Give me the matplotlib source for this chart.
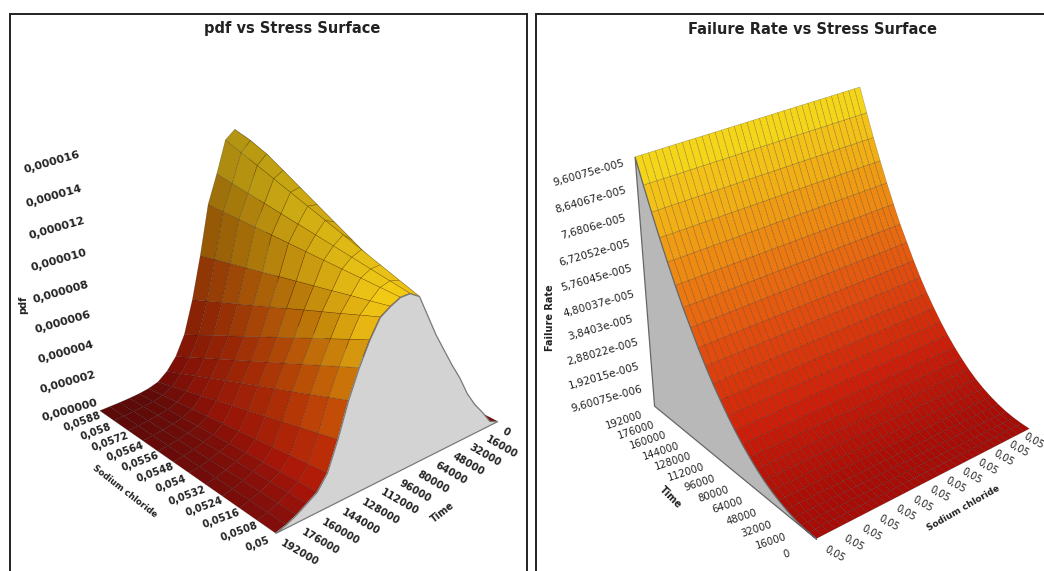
import numpy as np
import matplotlib
matplotlib.use('Agg')  # Use non-interactive backend
import matplotlib.pyplot as plt
from matplotlib.colors import LinearSegmentedColormap
from matplotlib.patches import Rectangle
from mpl_toolkits.mplot3d import proj3d
from mpl_toolkits.mplot3d.art3d import Poly3DCollection

W, H = 1044, 571

# time grid shared by both surfaces
time_hours = [0, 8000, 16000, 24000, 32000, 40000, 48000, 56000, 64000, 72000, 80000, 88000,
              96000, 104000, 112000, 120000, 128000, 136000, 144000, 152000, 160000, 168000,
              176000, 184000, 192000]
stress_left = [0.05, 0.0508, 0.0516, 0.0524, 0.0532, 0.054, 0.0548, 0.0556, 0.0564, 0.0572, 0.058, 0.0588]

# pdf in units of 1e-6, one row per time, one column per stress
pdf_table = [
    [0] * 12,
    [.3, .28, .26, .25, .23, .21, .19, .17, .15, .14, .12, .1],
    [1.2, 1.14, 1.07, 1.01, .95, .88, .82, .75, .69, .63, .56, .5],
    [2.0, 1.95, 1.89, 1.84, 1.78, 1.73, 1.67, 1.62, 1.56, 1.51, 1.45, 1.4],
    [3, 3.02, 3.04, 3.05, 3.07, 3.09, 3.11, 3.13, 3.15, 3.16, 3.18, 3.2],
    [4.3, 4.44, 4.57, 4.71, 4.85, 4.98, 5.12, 5.25, 5.39, 5.53, 5.66, 5.8],
    [5.4, 5.73, 6.05, 6.38, 6.71, 7.04, 7.36, 7.69, 8.02, 8.35, 8.67, 9],
    [6.6, 7.09, 7.58, 8.07, 8.56, 9.05, 9.55, 10.04, 10.53, 11.02, 11.51, 12],
    [7.8, 8.47, 9.15, 9.82, 10.49, 11.16, 11.84, 12.51, 13.18, 13.85, 14.4, 14.9],
    [9.2, 9.82, 10.44, 11.05, 11.67, 12.29, 12.91, 13.53, 14.15, 14.76, 15.2, 15.5],
    [10.6, 11, 11.4, 11.8, 12.2, 12.6, 13, 13.4, 13.8, 14.2, 14.6, 15],
    [11, 11.18, 11.36, 11.55, 11.73, 11.91, 12.09, 12.27, 12.45, 12.64, 12.82, 13],
    [11, 11.02, 11.04, 11.05, 11.07, 11.09, 11.11, 11.13, 11.15, 11.16, 11.18, 11.2],
    [10.7, 10.45, 10.21, 9.96, 9.72, 9.47, 9.23, 8.98, 8.74, 8.49, 8.25, 8],
    [10.3, 9.84, 9.37, 8.91, 8.45, 7.98, 7.52, 7.05, 6.59, 6.13, 5.66, 5.2],
    [9.2, 8.64, 8.07, 7.51, 6.95, 6.38, 5.82, 5.25, 4.69, 4.13, 3.56, 3],
    [7.8, 7.25, 6.69, 6.14, 5.58, 5.03, 4.47, 3.92, 3.36, 2.81, 2.25, 1.7],
    [6.1, 5.63, 5.15, 4.68, 4.21, 3.74, 3.26, 2.79, 2.32, 1.85, 1.37, .9],
    [4, 3.67, 3.35, 3.02, 2.69, 2.36, 2.04, 1.71, 1.38, 1.05, .73, .4],
    [2.2, 2.02, 1.84, 1.65, 1.47, 1.29, 1.11, .93, .75, .56, .38, .2],
    [1.3, 1.19, 1.08, .97, .86, .75, .65, .54, .43, .32, .21, .1],
    [.9, .82, .75, .67, .59, .51, .44, .36, .28, .2, .13, .05],
    [.5, .46, .41, .37, .33, .28, .24, .19, .15, .11, .06, .02],
    [.2, .18, .17, .15, .13, .11, .1, .08, .06, .04, .03, .01],
    [0] * 12,
]

# failure rate in units of 1e-5, it does not change across the stress axis
failure_rate = [0, .009, .038, .096, .187, .307, .452, .634, .855, 1.114, 1.403, 1.729, 2.094,
                2.498, 2.930, 3.411, 3.939, 4.516, 5.092, 5.745, 6.437, 7.167, 7.936, 8.752, 9.60075]

time_ticks = [0, 16000, 32000, 48000, 64000, 80000, 96000, 112000, 128000, 144000, 160000, 176000, 192000]
time_tick_labels = ['0', '16000', '32000', '48000', '64000', '80000', '96000', '112000', '128000',
                    '144000', '160000', '176000', '192000']
stress_tick_labels = ['0,05', '0,0508', '0,0516', '0,0524', '0,0532', '0,054', '0,0548', '0,0556',
                      '0,0564', '0,0572', '0,058', '0,0588']
pdf_ticks = [0, 2e-6, 4e-6, 6e-6, 8e-6, 10e-6, 12e-6, 14e-6, 16e-6]
pdf_tick_labels = ['0,000000', '0,000002', '0,000004', '0,000006', '0,000008', '0,000010',
                   '0,000012', '0,000014', '0,000016']
rate_ticks = [9.60075e-6, 1.92015e-5, 2.88022e-5, 3.8403e-5, 4.80037e-5, 5.76045e-5, 6.72052e-5,
              7.6806e-5, 8.64067e-5, 9.60075e-5]
rate_tick_labels = ['9,60075e-006', '1,92015e-005', '2,88022e-005', '3,8403e-005', '4,80037e-005',
                    '5,76045e-005', '6,72052e-005', '7,6806e-005', '8,64067e-005', '9,60075e-005']
rate_stress_labels = ['0,05'] * 13

cmap_left = LinearSegmentedColormap.from_list('pdf', [(0, '#6e0c0a'), (.15, '#9c1408'), (.4, '#a82c06'),
                                                      (.6, '#b04c06'), (.8, '#b87c0a'), (1, '#d8b414')])
cmap_right = LinearSegmentedColormap.from_list('rate', [(0, '#a80c06'), (.15, '#cf1e08'), (.35, '#e24a0e'),
                                                        (.6, '#ee8a12'), (.8, '#f2bb16'), (1, '#f8e81c')])


def make_axes(fig, elev, azim, aspect, focal, size, left, bottom):
    ax = fig.add_axes([left / W, bottom / H, size / W, size / H], projection='3d', computed_zorder=False)
    ax.view_init(elev=elev, azim=azim)
    ax.set_box_aspect(aspect)
    ax.set_proj_type('persp', focal_length=focal)
    ax.set_axis_off()
    return ax


def to_pixels(ax, x, y, z):
    xs, ys, _ = proj3d.proj_transform(np.array([x], float), np.array([y], float), np.array([z], float), ax.get_proj())
    return ax.transData.transform((xs[0], ys[0]))


def tick_label(fig, ax, point, text, dx, dy, rotation, weight='bold', size=8, ha='center'):
    px, py = to_pixels(ax, *point)
    fig.text((px + dx) / W, (py - dy) / H, text, ha=ha, va='center', rotation=rotation,
             rotation_mode='anchor', fontsize=size, fontweight=weight, color='#222222')


def label(fig, x, y, text, rotation, size=7):
    fig.text(x / W, 1 - y / H, text, ha='center', va='center', rotation=rotation,
             rotation_mode='anchor', fontsize=size, fontweight='bold', color='#222222')


fig = plt.figure(figsize=(W / 100, H / 100), dpi=100)

# left panel
ax1 = make_axes(fig, 25.7956, 49.2064, (0.6013, 0.5751, 0.5548), 0.5211, 484.65, 48.28, 25.65)
times = np.array(time_hours, float)
stress = np.array(stress_left)
pdf = np.array(pdf_table, float) * 1e-6
S1, T1 = np.meshgrid(stress, times)
shade = np.linspace(1.12, 0.8, len(stress))
colors1 = cmap_left(pdf / pdf.max(axis=0))
colors1[..., :3] = np.clip(colors1[..., :3] * shade[None, :, None], 0, 1)
ax1.plot_surface(T1, S1, pdf, facecolors=colors1, rstride=1, cstride=1, shade=False,
                 edgecolor=(0, 0, 0, .32), linewidth=.35, zorder=1)
wall1 = list(zip(times, stress[0] * np.ones(len(times)), pdf[:, 0]))
ax1.add_collection3d(Poly3DCollection([wall1], facecolor='#d3d3d3', edgecolor='#7a7a7a', linewidth=.9, zorder=2))
ax1.set_xlim(0, 192000, view_margin=0)
ax1.set_ylim(0.0588, 0.05, view_margin=0)
ax1.set_zlim(0, 1.6e-5, view_margin=0)

for z, text in zip(pdf_ticks, pdf_tick_labels):
    tick_label(fig, ax1, (192000, 0.0588, z), text, -30, 0, 16)
for s, text in zip(stress, stress_tick_labels):
    tick_label(fig, ax1, (192000, s, 0), text, -18, 11, 20, size=7.3)
for t, text in zip(time_ticks, time_tick_labels):
    tick_label(fig, ax1, (t, 0.05, 0), text, 6, 9, -30, size=7.3, ha='left')
label(fig, 23, 305, 'pdf', 90)
label(fig, 125, 491, 'Sodium chloride', -38, size=6.2)
label(fig, 443, 512, 'Time', 38)
fig.text(292.5 / W, 1 - 29 / H, 'pdf vs Stress Surface', ha='center', va='center', fontsize=10.5,
         fontweight='bold', color='#222222')

# right panel
ax2 = make_axes(fig, 30.4579, -128.7995, (0.5718, 0.5693, 0.5907), 0.5665, 476.75, 594.64, 28.20)
rate = np.array(failure_rate) * 1e-5
stress_pos = np.arange(37) / 3
R2 = np.tile(rate[:, None], (1, len(stress_pos)))
X2, T2 = np.meshgrid(stress_pos, times)
colors2 = cmap_right(R2 / rate.max())
ax2.plot_surface(X2, T2, R2, facecolors=colors2, rstride=1, cstride=1, shade=False,
                 edgecolor=(0, 0, 0, .32), linewidth=.35, zorder=1)
wall2 = list(zip(np.zeros(len(times)), times, rate)) + [(0, times[-1], 0)]
ax2.add_collection3d(Poly3DCollection([wall2], facecolor='#b8b8b8', edgecolor='#666666', linewidth=.9, zorder=2))
ax2.set_xlim(0, 12, view_margin=0)
ax2.set_ylim(0, 192000, view_margin=0)
ax2.set_zlim(0, 9.60075e-5, view_margin=0)

for z, text in zip(rate_ticks, rate_tick_labels):
    tick_label(fig, ax2, (0, 192000, z), text, -46, 16, 16, weight='normal', size=7.6)
for i, text in enumerate(rate_stress_labels):
    tick_label(fig, ax2, (i, 0, 0), text, 19 - 1.25 * i, 15 - .25 * i, -30, weight='normal', size=7)
for t, text in zip(time_ticks, time_tick_labels):
    tick_label(fig, ax2, (0, t, 0), text, -30, 15, 18, weight='normal', size=7.3)
label(fig, 550, 318, 'Failure Rate', 90)
label(fig, 670, 497, 'Time', -45)
label(fig, 963, 508, 'Sodium chloride', 30, size=6.5)
fig.text(813 / W, 1 - 30 / H, 'Failure Rate vs Stress Surface', ha='center', va='center', fontsize=10.5,
         fontweight='bold', color='#222222')

# panel frames run past the bottom of the image, the right one also past its edge
fig.add_artist(Rectangle((10 / W, -0.05), 517 / W, 1.05 - 13.5 / H, transform=fig.transFigure, fill=False,
                         edgecolor='#222222', linewidth=1.4))
fig.add_artist(Rectangle((536 / W, -0.05), 0.6, 1.05 - 13.5 / H, transform=fig.transFigure, fill=False,
                         edgecolor='#222222', linewidth=1.4))

fig.savefig('out.png', dpi=100, facecolor='white')
